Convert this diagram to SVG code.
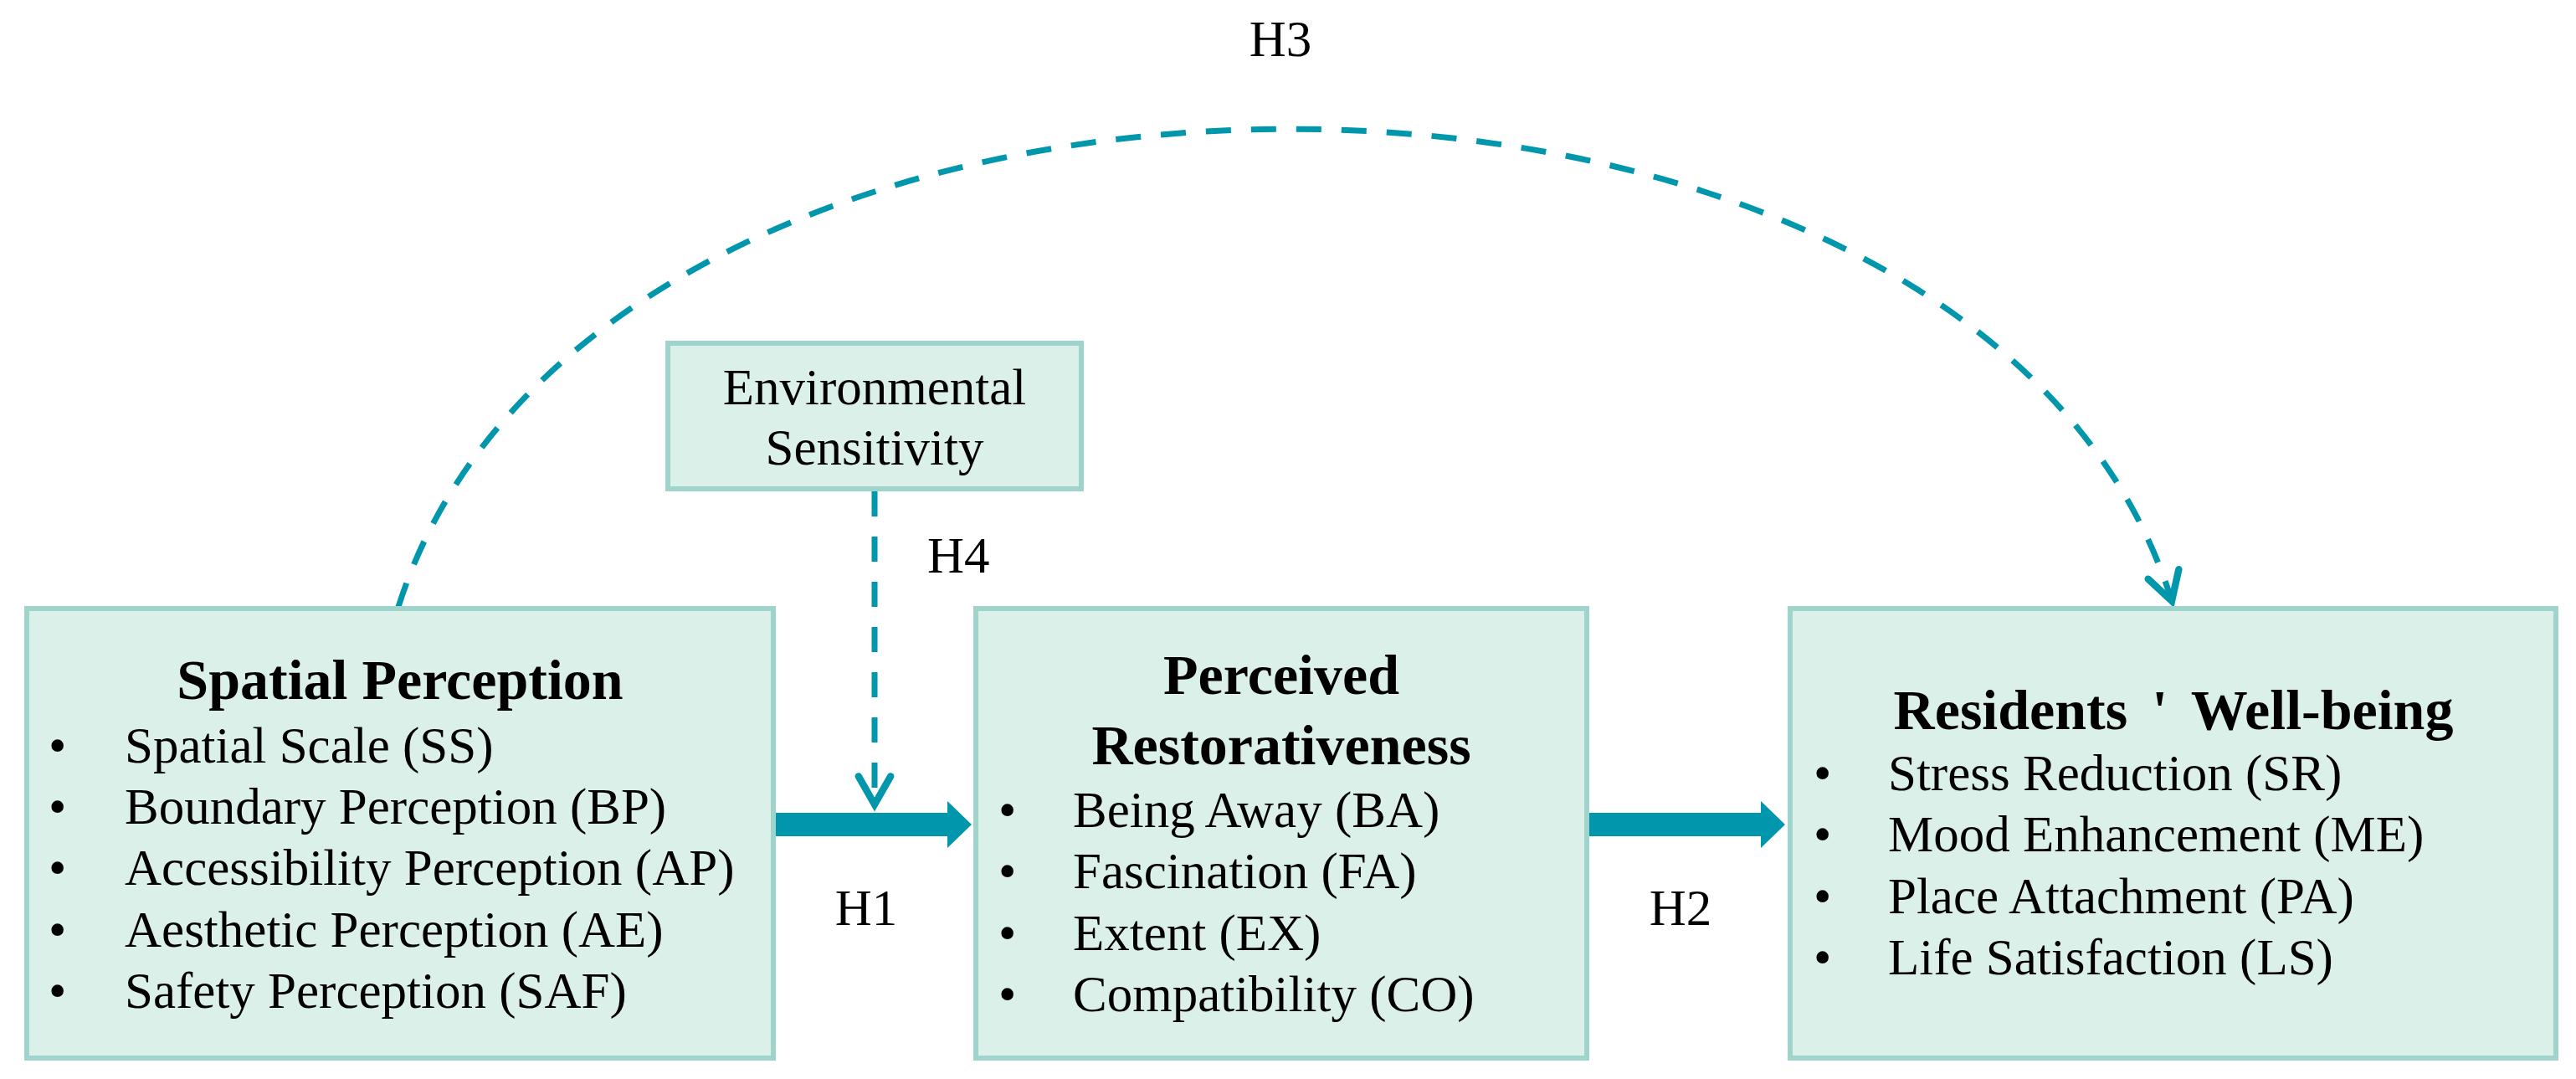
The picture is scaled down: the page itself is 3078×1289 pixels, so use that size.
<svg xmlns="http://www.w3.org/2000/svg" width="3078" height="1289" viewBox="0 0 3078 1289">
<style>
.box{fill:#dcf0ea;stroke:#9fd4cd;stroke-width:6}
.title{font-family:"Liberation Serif","Times New Roman",serif;font-weight:bold;font-size:68px;fill:#000;text-anchor:middle}
.item{font-family:"Liberation Serif","Times New Roman",serif;font-size:61px;fill:#000}
.lbl{font-family:"Liberation Serif","Times New Roman",serif;font-size:61px;fill:#000}
.dash{fill:none;stroke:#0097ac;stroke-width:7;stroke-dasharray:30 24}
.block{fill:#0097ac}
</style>
<defs>
<marker id="chev" markerUnits="userSpaceOnUse" markerWidth="60" markerHeight="60" viewBox="-40 -25 50 50" refX="0" refY="0" orient="auto">
<path d="M -28 -16 L 0 0 L -28 16" fill="none" stroke="#0097ac" stroke-width="7" stroke-linecap="round" stroke-linejoin="miter"/>
</marker>
</defs>
<rect width="3078" height="1289" fill="#ffffff"/>
<g id="connectors">
<path id="H3-arc" class="dash" d="M 476 725 C 716 -35 2361 -35 2595 718" marker-end="url(#chev)"/>
<path id="H4-line" class="dash" d="M 1045 587 L 1045 961" marker-end="url(#chev)"/>
<polygon id="H1-arrow" class="block" points="927,971 1132,971 1132,957 1161,985 1132,1013 1132,999 927,999"/>
<polygon id="H2-arrow" class="block" points="1899,971 2104,971 2104,957 2133,985 2104,1013 2104,999 1899,999"/>
<text class="lbl" x="1530" y="67" text-anchor="middle">H3</text>
<text class="lbl" x="1108" y="684">H4</text>
<text class="lbl" x="1035" y="1105" text-anchor="middle">H1</text>
<text class="lbl" x="2008" y="1105" text-anchor="middle">H2</text>
</g>
<g id="env-sensitivity">
<rect class="box" x="798" y="410" width="494" height="174"/>
<text class="lbl" x="1045" y="483" text-anchor="middle">Environmental</text>
<text class="lbl" x="1045" y="555" text-anchor="middle">Sensitivity</text>
</g>
<g id="spatial-perception">
<rect class="box" x="32" y="727" width="892" height="537"/>
<text class="title" x="478" y="835">Spatial Perception</text>
<text class="item" x="58" y="911">•</text><text class="item" x="149" y="911">Spatial Scale (SS)</text>
<text class="item" x="58" y="984">•</text><text class="item" x="149" y="984">Boundary Perception (BP)</text>
<text class="item" x="58" y="1057">•</text><text class="item" x="149" y="1057">Accessibility Perception (AP)</text>
<text class="item" x="58" y="1131">•</text><text class="item" x="149" y="1131">Aesthetic Perception (AE)</text>
<text class="item" x="58" y="1204">•</text><text class="item" x="149" y="1204">Safety Perception (SAF)</text>
</g>
<g id="perceived-restorativeness">
<rect class="box" x="1166" y="727" width="730" height="537"/>
<text class="title" x="1531" y="829">Perceived</text>
<text class="title" x="1531" y="913">Restorativeness</text>
<text class="item" x="1193" y="988">•</text><text class="item" x="1282" y="988">Being Away (BA)</text>
<text class="item" x="1193" y="1061">•</text><text class="item" x="1282" y="1061">Fascination (FA)</text>
<text class="item" x="1193" y="1135">•</text><text class="item" x="1282" y="1135">Extent (EX)</text>
<text class="item" x="1193" y="1208">•</text><text class="item" x="1282" y="1208">Compatibility (CO)</text>
</g>
<g id="residents-wellbeing">
<rect class="box" x="2139" y="727" width="915" height="537"/>
<text class="title" x="2597" y="871" style="word-spacing:12px">Residents ' Well-being</text>
<text class="item" x="2167" y="944">•</text><text class="item" x="2256" y="944">Stress Reduction (SR)</text>
<text class="item" x="2167" y="1017">•</text><text class="item" x="2256" y="1017">Mood Enhancement (ME)</text>
<text class="item" x="2167" y="1091">•</text><text class="item" x="2256" y="1091">Place Attachment (PA)</text>
<text class="item" x="2167" y="1164">•</text><text class="item" x="2256" y="1164">Life Satisfaction (LS)</text>
</g>
</svg>
